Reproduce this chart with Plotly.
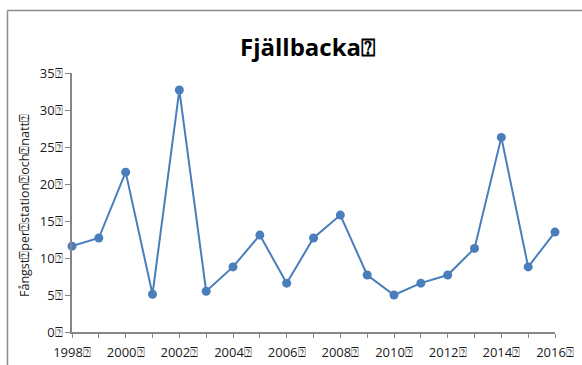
import plotly.graph_objects as go

BOX = "\u2370"
years = list(range(1998, 2017))
catch = [11.6, 12.7, 21.6, 5.1, 32.7, 5.5, 8.8, 13.1, 6.6, 12.7, 15.8, 7.7, 5.0, 6.6, 7.7, 11.3, 26.3, 8.8, 13.5]
y_ticks = [0, 5, 10, 15, 20, 25, 30, 35]
title_text = "Fjällbacka" + BOX
y_title = BOX.join(["Fångst", "per", "station", "och", "natt"]) + BOX

font_family = "Open Sans, Liberation Sans, sans-serif"
blue = "#4A7EBB"
axis_col = "#868686"

L, R, T, B = 72, 27, 73, 33
W, H = 582, 365
pw, ph = W - L - R, H - T - B

def px(xp):
    return (xp - L) / pw

def py(yp):
    return (H - B - yp) / ph

fig = go.Figure()
fig.add_trace(go.Scatter(
    x=years, y=catch, mode="lines+markers",
    line=dict(color=blue, width=2),
    marker=dict(color=blue, size=9),
    cliponaxis=False, showlegend=False,
))

fig.update_layout(
    width=W, height=H,
    margin=dict(l=L, r=R, t=T, b=B, autoexpand=False),
    paper_bgcolor="white", plot_bgcolor="white",
    font=dict(family=font_family, size=13, color="#1a1a1a"),
    xaxis=dict(
        range=[1998, 2016], tickmode="array", tickvals=years,
        ticktext=[f"{y}{BOX}" if y % 2 == 0 else "" for y in years],
        ticks="outside", ticklen=4, tickcolor=axis_col, tickwidth=1,
        showline=True, linecolor=axis_col, linewidth=1.5,
        showgrid=False, zeroline=False, tickfont=dict(size=13),
        ticklabelstandoff=4, automargin=False,
    ),
    yaxis=dict(
        range=[0, 35], tickmode="array", tickvals=y_ticks,
        ticktext=[f"{v}{BOX}" for v in y_ticks],
        ticks="outside", ticklen=5, tickcolor=axis_col, tickwidth=1,
        showline=True, linecolor=axis_col, linewidth=1.5,
        showgrid=False, zeroline=False, tickfont=dict(size=13),
        automargin=False,
    ),
    shapes=[
        dict(type="line", xref="paper", yref="paper", x0=px(7.5), x1=px(600), y0=py(10.5), y1=py(10.5),
             line=dict(color="#8C8C8C", width=1.5)),
        dict(type="line", xref="paper", yref="paper", x0=px(7.5), x1=px(7.5), y0=py(10.5), y1=py(400),
             line=dict(color="#8C8C8C", width=1.5)),
    ],
    annotations=[
        dict(text=f"<b>{title_text}</b>", xref="paper", yref="paper", x=px(307), y=py(47),
             showarrow=False, font=dict(size=24, color="black"), xanchor="center", yanchor="middle"),
        dict(text=y_title, xref="paper", yref="paper", x=px(24), y=py(206), textangle=-90,
             showarrow=False, font=dict(size=12.5, color="#1a1a1a"), xanchor="center", yanchor="middle"),
    ],
)

fig.write_html("out.html")
